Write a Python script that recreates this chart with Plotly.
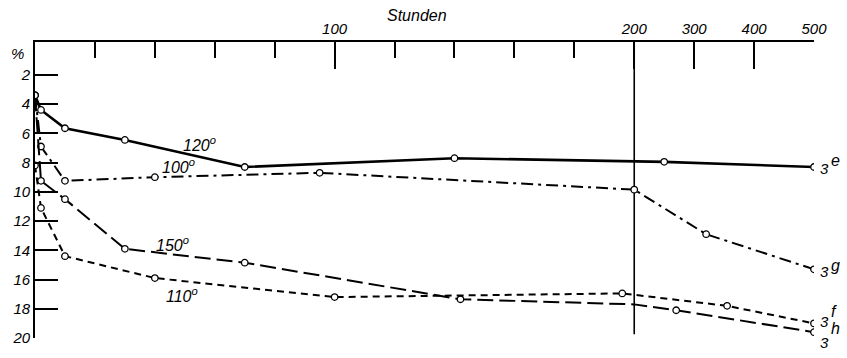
import plotly.graph_objects as go

# ---- data (hours, percent) ----
hours_3e = [0, 2, 10, 30, 70, 140, 250, 500]
pct_3e = [3.4, 4.4, 5.65, 6.45, 8.3, 7.7, 7.95, 8.3]

hours_3g = [0, 2, 10, 40, 95, 200, 320, 500]
pct_3g = [3.4, 6.9, 9.25, 9.0, 8.7, 9.85, 12.9, 15.3]

hours_3h = [0, 2, 10, 30, 70, 142, 200, 270, 500]
pct_3h = [3.4, 9.25, 10.5, 13.9, 14.85, 17.35, 17.7, 18.1, 19.6]
marked_3h = [1, 1, 1, 1, 1, 1, 0, 1, 1]

hours_3f = [0, 2, 10, 40, 100, 196, 355, 500]
pct_3f = [8.2, 11.1, 14.4, 15.9, 17.2, 16.95, 17.8, 19.0]

series_names = ["e", "g", "f", "h"]
series_temps = ["120", "100", "110", "150"]

x_tick_hours = [100, 200, 300, 400, 500]
x_tick_labels = ["100", "200", "300", "400", "500"]
x_minor_hours = [20, 40, 60, 80, 120, 140, 160, 180]
y_ticks = [2, 4, 6, 8, 10, 12, 14, 16, 18, 20]

BREAK = 200
COMPRESS = 5.0


def u(h):
    """Broken time scale: linear up to 200 h, compressed 5x beyond."""
    return h if h <= BREAK else BREAK + (h - BREAK) / COMPRESS


def us(hs):
    return [u(h) for h in hs]


FONT = "Liberation Sans"
fig = go.Figure()

marker = dict(symbol="circle", size=6.5, color="white", line=dict(color="black", width=1.3))

fig.add_trace(go.Scatter(x=us(hours_3e), y=pct_3e, mode="lines+markers",
                         line=dict(color="black", width=2.6), marker=marker))
fig.add_trace(go.Scatter(x=us(hours_3g), y=pct_3g, mode="lines+markers",
                         line=dict(color="black", width=2, dash="12px,5px,3px,5px"), marker=marker))
fig.add_trace(go.Scatter(x=us(hours_3h), y=pct_3h, mode="lines",
                         line=dict(color="black", width=2, dash="16px,6px")))
fig.add_trace(go.Scatter(x=[u(h) for h, m in zip(hours_3h, marked_3h) if m],
                         y=[p for p, m in zip(pct_3h, marked_3h) if m],
                         mode="markers", marker=marker))
fig.add_trace(go.Scatter(x=us(hours_3f), y=pct_3f, mode="lines+markers",
                         line=dict(color="black", width=2, dash="7px,5px"), marker=marker))

# vertical line at the scale break (200 h)
fig.add_shape(type="line", xref="x", yref="y", x0=u(200), x1=u(200), y0=-0.25, y1=19.75,
              line=dict(color="black", width=1.6), layer="below")

tf = dict(family=FONT, size=15, color="black")
lf = dict(family=FONT, size=16, color="black")
ann = []
temp_pos = {"120": (55, 6.75), "100": (48, 8.2), "150": (46, 13.55), "110": (49, 17.05)}
for t in series_temps:
    xh, yv = temp_pos[t]
    ann.append(dict(x=xh, y=yv, xref="x", yref="y", text="<i>" + t + "<sup>o</sup></i>",
                    showarrow=False, font=lf))
# (anchor value, shift of "3", shift of letter) in pixels
end_pos = {"e": (8.3, -2, 6), "g": (15.3, -2, 4), "f": (18.9, 0, 10), "h": (19.6, -10, 4)}
for name in series_names:
    yv, s3, sl = end_pos[name]
    ann.append(dict(x=u(500), y=yv, xref="x", yref="y", xanchor="left", xshift=4, yshift=s3,
                    text="<i>3</i>", showarrow=False, font=tf))
    ann.append(dict(x=u(500), y=yv, xref="x", yref="y", xanchor="left", xshift=15, yshift=sl,
                    text="<i>" + name + "</i>", showarrow=False, font=lf))
ann.append(dict(x=0.491, y=1.125, xref="paper", yref="paper", text="<i>Stunden</i>",
                showarrow=False, font=lf))
ann.append(dict(x=-0.012, y=0.55, xref="paper", yref="y", xanchor="right", text="<i>%</i>",
                showarrow=False, font=tf))
fig.update_layout(annotations=ann)

fig.update_layout(
    width=847, height=358,
    margin=dict(l=30, r=33, t=42, b=12),
    paper_bgcolor="white", plot_bgcolor="white",
    showlegend=False,
    xaxis=dict(range=[0, u(500)], side="top", showgrid=False, zeroline=False,
               showline=True, linecolor="black", linewidth=1.8,
               tickmode="array", tickvals=us(x_tick_hours), ticktext=["<i>%s</i>" % t for t in x_tick_labels],
               ticks="inside", ticklen=27, tickwidth=1.6, tickcolor="black",
               tickfont=tf,
               minor=dict(tickmode="array", tickvals=us(x_minor_hours), ticks="inside",
                          ticklen=16, tickwidth=1.6, tickcolor="black", showgrid=False)),
    yaxis=dict(range=[20.0, -0.25], showgrid=False, zeroline=False,
               showline=True, linecolor="black", linewidth=1.8,
               tickmode="array", tickvals=y_ticks, ticktext=["<i>%d</i>" % t for t in y_ticks],
               ticks="inside", ticklen=23, tickwidth=1.6, tickcolor="black",
               tickfont=tf),
)

fig.write_html("out.html")
